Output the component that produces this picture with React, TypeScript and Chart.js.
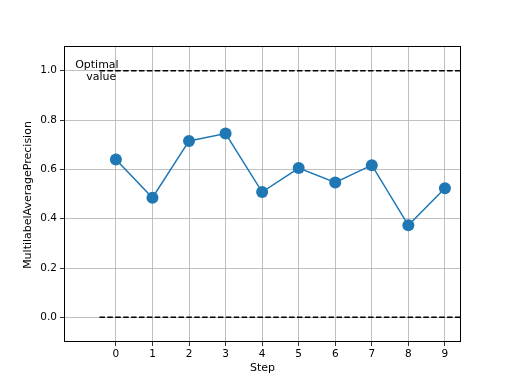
import React, { useEffect, useRef } from "react";
import { Chart, registerables } from "chart.js";

Chart.register(...registerables);

const steps = [0, 1, 2, 3, 4, 5, 6, 7, 8, 9];
const precision = [0.64, 0.485, 0.715, 0.745, 0.508, 0.605, 0.547, 0.617, 0.373, 0.523];
const optimalValue = [1.0];
const baselineValue = [0.0];
const lineStart = -0.45;
const lineEnd = 9.45;
const yTicks = [0, 0.2, 0.4, 0.6, 0.8, 1.0];
const xTitle = "Step";
const yTitle = "MultilabelAveragePrecision";
const FONT = "'DejaVu Sans', sans-serif";

const framePlugin = {
  id: "frame",
  afterDraw(chart: any) {
    const { ctx, chartArea, scales } = chart;
    ctx.save();
    ctx.strokeStyle = "#000";
    ctx.lineWidth = 1;
    ctx.strokeRect(
      Math.round(chartArea.left) + 0.5,
      Math.round(chartArea.top) + 0.5,
      Math.round(chartArea.right - chartArea.left) - 1,
      Math.round(chartArea.bottom - chartArea.top) - 1
    );
    ctx.fillStyle = "#000";
    ctx.font = "11px " + FONT;
    ctx.textAlign = "center";
    ctx.textBaseline = "alphabetic";
    const yp = scales.y.getPixelForValue(optimalValue[0]);
    ctx.fillText("Optimal", scales.x.getPixelForValue(-0.52), yp - 2.5);
    ctx.fillText("value", scales.x.getPixelForValue(-0.4), yp + 9.5);

    // axis titles
    ctx.textBaseline = "middle";
    ctx.fillText(xTitle, (chartArea.left + chartArea.right) / 2, 368);
    ctx.translate(28, (chartArea.top + chartArea.bottom) / 2 + 1);
    ctx.rotate(-Math.PI / 2);
    ctx.fillText(yTitle, 0, 0);
    ctx.restore();
  },
};

export default function App() {
  const ref = useRef<HTMLCanvasElement>(null);
  useEffect(() => {
    const chart = new Chart(ref.current!, {
      type: "line",
      data: {
        datasets: [
          {
            data: [
              { x: lineStart, y: optimalValue[0] },
              { x: lineEnd, y: optimalValue[0] },
            ],
            borderColor: "#000",
            borderWidth: 1.5,
            borderDash: [5.5, 2.4],
            pointRadius: 0,
          },
          {
            data: [
              { x: lineStart, y: baselineValue[0] },
              { x: lineEnd, y: baselineValue[0] },
            ],
            borderColor: "#000",
            borderWidth: 1.5,
            borderDash: [5.5, 2.4],
            pointRadius: 0,
          },
          {
            data: steps.map((s, i) => ({ x: s, y: precision[i] })),
            borderColor: "#1f77b4",
            backgroundColor: "#1f77b4",
            borderWidth: 1.5,
            pointRadius: 6,
            pointBorderWidth: 0,
            tension: 0,
          },
        ],
      },
      options: {
        animation: false,
        responsive: false,
        maintainAspectRatio: false,
        layout: { padding: { top: 46, right: 51, left: 0, bottom: 0 } },
        plugins: { legend: { display: false }, tooltip: { enabled: false } },
        scales: {
          x: {
            type: "linear",
            min: -1.42,
            max: 9.44,
            afterBuildTicks: (s: any) => {
              s.ticks = steps.map((v) => ({ value: v }));
            },
            afterFit: (s: any) => {
              s.height = 42;
            },
            grid: { color: "#b0b0b0", tickColor: "#000", tickLength: 4, lineWidth: 0.8 },
            border: { display: false },
            ticks: { color: "#000", font: { family: FONT, size: 10.5 }, padding: 2, maxRotation: 0 },
            title: { display: false },
          },
          y: {
            type: "linear",
            min: -0.1,
            max: 1.1,
            afterBuildTicks: (s: any) => {
              s.ticks = yTicks.map((v) => ({ value: v }));
            },
            afterFit: (s: any) => {
              s.width = 64;
            },
            grid: { color: "#b0b0b0", tickColor: "#000", tickLength: 4, lineWidth: 0.8 },
            border: { display: false },
            ticks: {
              color: "#000",
              font: { family: FONT, size: 10.5 },
              padding: 3,
              callback: (v: any) => Number(v).toFixed(1),
            },
            title: { display: false },
          },
        },
      },
      plugins: [framePlugin],
    } as any);
    return () => chart.destroy();
  }, []);
  return (
    <div style={{ position: "fixed", left: 0, top: 0, width: 512, height: 384, background: "#fff" }}>
      <canvas ref={ref} width={512} height={384} style={{ width: 512, height: 384 }} />
    </div>
  );
}
